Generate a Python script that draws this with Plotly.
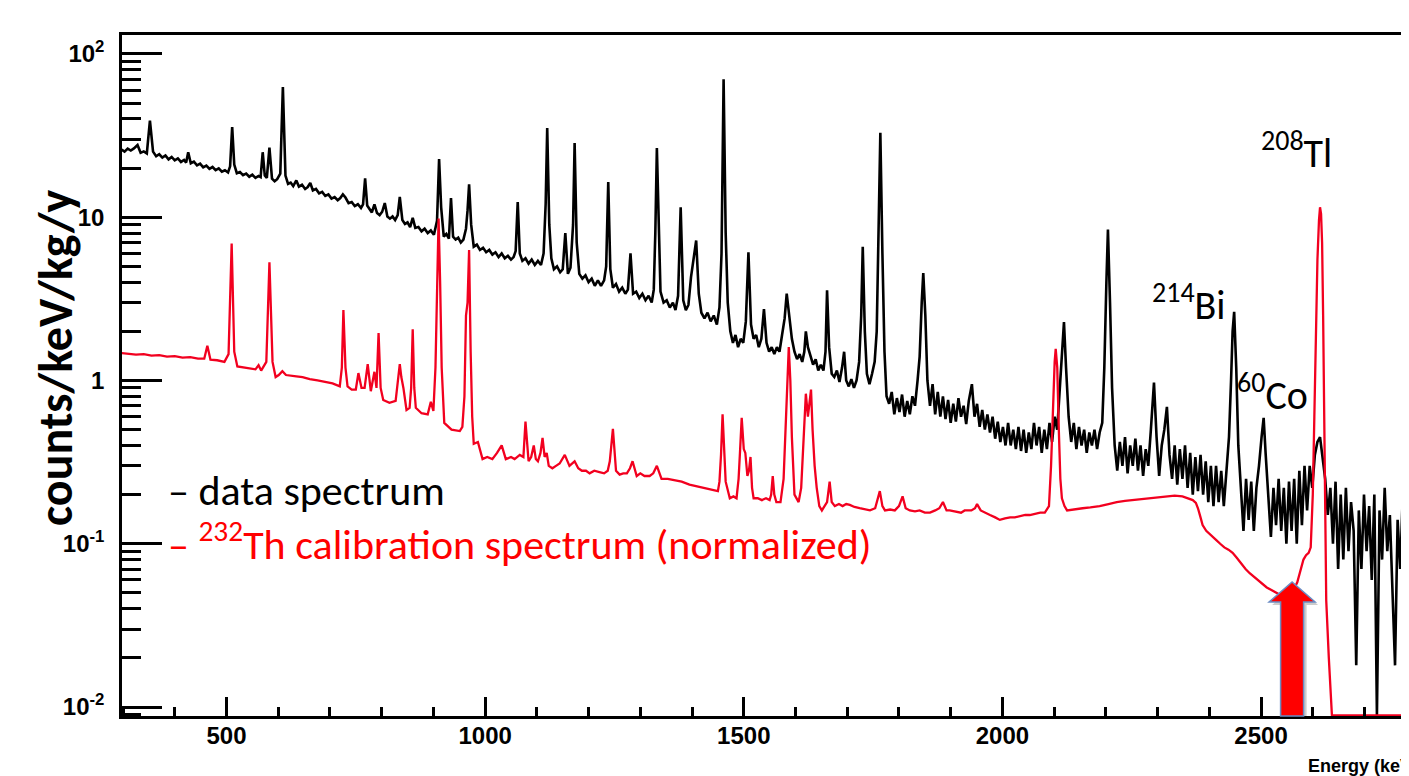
import plotly.graph_objects as go

# ---------------- data spectrum (black), energy in keV, counts/keV/kg/y ----------------
data_energy = [
    297, 303, 309, 315, 321, 328, 334, 340, 346, 352,
    358, 364, 370, 376, 382, 388, 394, 400, 406, 412,
    418, 422, 426, 431, 437, 443, 449, 455, 461, 467,
    473, 479, 485, 491, 497, 503, 507, 511, 515, 520,
    526, 532, 538, 544, 550, 556, 562, 566, 570, 574,
    578, 583, 588, 593, 598, 604, 609, 614, 619, 624,
    629, 635, 640, 646, 652, 657, 662, 667, 673, 679,
    685, 691, 697, 703, 709, 715, 720, 725, 730, 736,
    742, 748, 754, 760, 764, 768, 772, 777, 781, 786,
    791, 796, 801, 806, 811, 816, 821, 826, 831, 835,
    840, 845, 850, 855, 860, 865, 871, 877, 883, 889,
    895, 901, 907, 911, 915, 920, 925, 930, 934, 938,
    943, 948, 953, 958, 963, 966, 969, 973, 978, 984,
    990, 996, 1002, 1008, 1014, 1020, 1026, 1032, 1038, 1044,
    1050, 1055, 1059, 1063, 1067, 1072, 1078, 1084, 1090, 1096,
    1102, 1108, 1113, 1117, 1120, 1124, 1128, 1133, 1139, 1145,
    1150, 1155, 1160, 1165, 1170, 1173, 1177, 1182, 1188, 1194,
    1200, 1206, 1212, 1218, 1224, 1230, 1234, 1238, 1242, 1247,
    1253, 1259, 1265, 1271, 1276, 1281, 1286, 1292, 1298, 1304,
    1310, 1316, 1322, 1326, 1329, 1332, 1335, 1339, 1345, 1351,
    1357, 1363, 1368, 1373, 1378, 1383, 1388, 1393, 1398, 1402,
    1408, 1413, 1418, 1424, 1430, 1436, 1442, 1448, 1453, 1457,
    1461, 1465, 1469, 1474, 1479, 1484, 1489, 1494, 1499, 1504,
    1509, 1514, 1519, 1524, 1529, 1534, 1539, 1544, 1549, 1554,
    1559, 1564, 1569, 1574, 1579, 1583, 1588, 1593, 1598, 1603,
    1608, 1613, 1617, 1620, 1624, 1629, 1634, 1639, 1644, 1649,
    1654, 1658, 1661, 1665, 1670, 1675, 1680, 1685, 1690, 1694,
    1698, 1703, 1708, 1713, 1718, 1723, 1727, 1730, 1734, 1738,
    1743, 1748, 1753, 1757, 1760, 1764, 1768, 1772, 1776, 1781,
    1786, 1791, 1796, 1801, 1806, 1811, 1816, 1821, 1826, 1831,
    1836, 1840, 1844, 1847, 1851, 1855, 1860, 1865, 1870, 1875,
    1880, 1885, 1890, 1895, 1900, 1905, 1910, 1915, 1920, 1925,
    1930, 1935, 1941, 1946, 1951, 1956, 1961, 1966, 1971, 1976,
    1981, 1986, 1991, 1996, 2001, 2006, 2011, 2016, 2021, 2026,
    2031, 2036, 2041, 2046, 2051, 2056, 2061, 2066, 2071, 2076,
    2081, 2086, 2091, 2096, 2101, 2106, 2111, 2115, 2119, 2123,
    2128, 2133, 2138, 2143, 2148, 2153, 2158, 2163, 2168, 2173,
    2178, 2183, 2188, 2193, 2197, 2201, 2204, 2208, 2212, 2217,
    2222, 2227, 2232, 2237, 2242, 2247, 2252, 2257, 2262, 2267,
    2272, 2277, 2282, 2287, 2293, 2298, 2303, 2308, 2313, 2318,
    2323, 2328, 2333, 2338, 2343, 2348, 2353, 2358, 2363, 2368,
    2373, 2378, 2383, 2388, 2393, 2398, 2403, 2408, 2413, 2418,
    2423, 2428, 2433, 2438, 2442, 2445, 2448, 2452, 2456, 2461,
    2466, 2471, 2476, 2481, 2486, 2491, 2496, 2501, 2505, 2509,
    2514, 2519, 2524, 2529, 2534, 2539, 2544, 2549, 2554, 2559,
    2564, 2569, 2574, 2579, 2584, 2589, 2594, 2599, 2604, 2609,
    2614, 2619, 2624, 2629, 2634, 2639, 2644, 2649, 2654, 2659,
    2664, 2669, 2674, 2679, 2684, 2689, 2694, 2699, 2704, 2709,
    2714, 2719, 2724, 2729, 2734, 2739, 2744, 2749, 2754, 2759,
    2764, 2769, 2774, 2779, 2784, 2789,
]
data_counts = [
    26.0, 25.2, 26.3, 25.6, 26.4, 27.7, 24.8, 25.3, 24.6, 39.0,
    25.2, 23.6, 24.3, 23.2, 23.9, 22.6, 23.4, 22.3, 22.9, 21.8,
    22.4, 21.6, 25.0, 21.4, 21.9, 20.8, 21.3, 20.2, 20.7, 19.8,
    20.3, 19.4, 19.9, 19.0, 19.4, 18.8, 20.5, 35.7, 21.0, 18.6,
    18.9, 18.1, 18.5, 17.7, 18.2, 17.4, 17.9, 17.6, 25.0, 18.0,
    17.4, 26.7, 17.2, 16.6, 17.1, 18.5, 62.7, 18.0, 16.0, 16.3,
    15.5, 16.8, 15.4, 15.8, 14.9, 15.3, 16.2, 14.6, 14.9, 14.0,
    14.3, 13.5, 13.8, 13.0, 13.3, 12.7, 13.1, 13.8, 13.2, 12.2,
    12.4, 11.7, 12.0, 11.4, 12.0, 17.3, 11.8, 11.1, 10.7, 12.0,
    10.6, 10.3, 10.8, 12.2, 10.1, 9.8, 10.1, 9.6, 10.3, 13.3,
    9.6, 9.1, 9.3, 8.7, 9.9, 8.6, 8.7, 8.2, 8.5, 8.0,
    8.3, 7.8, 9.5, 22.7, 11.5, 7.6, 7.9, 7.4, 13.1, 7.6,
    7.3, 7.5, 7.0, 7.3, 8.5, 11.0, 15.9, 9.0, 6.6, 6.8,
    6.3, 6.5, 6.1, 6.3, 5.9, 6.1, 5.7, 6.0, 5.6, 5.8,
    5.5, 5.7, 6.2, 12.4, 6.0, 5.4, 5.6, 5.2, 5.5, 5.1,
    5.4, 5.1, 6.0, 12.0, 35.2, 9.0, 5.6, 4.8, 5.0, 4.6,
    4.8, 8.0, 4.5, 4.9, 9.0, 28.5, 7.0, 4.5, 4.2, 4.4,
    4.0, 4.2, 3.8, 4.1, 3.8, 4.1, 5.0, 16.4, 4.8, 3.7,
    3.9, 3.5, 3.7, 3.4, 3.6, 6.0, 3.4, 3.5, 3.2, 3.4,
    3.1, 3.3, 3.0, 3.6, 8.0, 26.5, 9.0, 3.5, 3.0, 3.1,
    2.8, 3.0, 2.7, 3.3, 11.5, 3.1, 2.7, 2.9, 4.3, 5.4,
    7.2, 3.4, 2.6, 2.4, 2.6, 2.3, 2.5, 2.2, 2.8, 6.0,
    70.0, 8.0, 3.0, 2.0, 1.7, 1.9, 1.6, 1.8, 1.7, 2.3,
    6.1, 2.2, 1.8, 1.9, 1.6, 1.8, 2.74, 1.7, 1.5, 1.6,
    1.45, 1.6, 1.5, 1.9, 2.4, 3.4, 2.5, 1.8, 1.5, 1.35,
    1.45, 1.3, 1.5, 2.0, 1.6, 1.4, 1.25, 1.35, 1.15, 1.25,
    1.15, 1.5, 3.57, 1.6, 1.1, 1.05, 1.15, 0.98, 1.2, 1.5,
    1.0, 0.92, 1.02, 0.9, 1.0, 1.3, 2.5, 6.6, 2.0, 1.1,
    0.95, 1.1, 1.3, 2.0, 8.0, 32.9, 6.0, 1.5, 0.8, 0.72,
    0.85, 0.62, 0.78, 0.64, 0.82, 0.6, 0.75, 0.62, 0.8, 0.7,
    1.0, 1.4, 3.0, 4.55, 2.5, 1.0, 0.7, 0.95, 0.62, 0.85,
    0.6, 0.8, 0.58, 0.76, 0.55, 0.72, 0.56, 0.78, 0.6, 0.7,
    0.54, 0.75, 0.95, 0.6, 0.72, 0.52, 0.66, 0.5, 0.62, 0.48,
    0.6, 0.44, 0.56, 0.42, 0.52, 0.4, 0.55, 0.4, 0.5, 0.38,
    0.52, 0.37, 0.5, 0.36, 0.48, 0.38, 0.55, 0.4, 0.52, 0.36,
    0.5, 0.38, 0.55, 0.42, 0.6, 0.5, 0.9, 1.5, 2.28, 1.2,
    0.6, 0.42, 0.55, 0.38, 0.52, 0.4, 0.5, 0.36, 0.48, 0.4,
    0.5, 0.38, 0.48, 0.55, 1.2, 4.0, 8.4, 3.0, 0.9, 0.4,
    0.28, 0.42, 0.3, 0.45, 0.27, 0.4, 0.3, 0.44, 0.28, 0.4,
    0.26, 0.38, 0.3, 0.5, 0.97, 0.45, 0.26, 0.4, 0.5, 0.69,
    0.35, 0.25, 0.4, 0.23, 0.38, 0.25, 0.4, 0.22, 0.36, 0.2,
    0.34, 0.21, 0.35, 0.2, 0.32, 0.18, 0.3, 0.17, 0.3, 0.18,
    0.28, 0.17, 0.3, 0.45, 1.0, 2.0, 2.63, 1.2, 0.4, 0.2,
    0.12, 0.25, 0.14, 0.24, 0.12, 0.22, 0.3, 0.45, 0.59, 0.35,
    0.2, 0.11, 0.22, 0.13, 0.25, 0.12, 0.22, 0.1, 0.24, 0.12,
    0.25, 0.1, 0.28, 0.13, 0.3, 0.16, 0.3, 0.22, 0.35, 0.42,
    0.45, 0.32, 0.25, 0.15, 0.22, 0.1, 0.24, 0.07, 0.2, 0.08,
    0.22, 0.09, 0.18, 0.12, 0.018, 0.16, 0.07, 0.2, 0.09, 0.17,
    0.06, 0.2, 0.0089, 0.16, 0.08, 0.22, 0.09, 0.15, 0.05, 0.018,
    0.14, 0.07, 0.2, 0.09, 0.15, 0.1,
]

# ---------------- 232Th calibration spectrum (red, normalized) ----------------
th_energy = [
    297, 310, 325, 340, 355, 370, 385, 400, 415, 430,
    445, 457, 463, 469, 482, 496, 504, 510, 515, 521,
    532, 544, 556, 562, 567, 577, 583, 589, 595, 601,
    608, 615, 622, 635, 647, 661, 676, 690, 705, 719,
    723, 726, 730, 734, 742, 750, 755, 761, 767, 773,
    779, 786, 790, 794, 798, 803, 815, 827, 831, 835,
    838, 842, 848, 854, 857, 860, 863, 866, 877, 889,
    895, 900, 904, 907, 910, 913, 916, 921, 935, 951,
    956, 960, 963, 966, 969, 972, 975, 978, 986, 995,
    1004, 1014, 1023, 1032, 1040, 1050, 1057, 1067, 1074, 1078,
    1084, 1089, 1094, 1098, 1102, 1107, 1111, 1115, 1119, 1123,
    1130, 1137, 1144, 1154, 1163, 1173, 1180, 1187, 1195, 1202,
    1211, 1221, 1230, 1237, 1241, 1247, 1253, 1260, 1267, 1274,
    1280, 1285, 1293, 1300, 1308, 1318, 1325, 1332, 1341, 1353,
    1366, 1380, 1395, 1410, 1424, 1437, 1450, 1453, 1456, 1459,
    1462, 1465, 1473, 1480, 1486, 1490, 1493, 1496, 1500, 1503,
    1507, 1510, 1513, 1516, 1519, 1527, 1535, 1543, 1550, 1553,
    1556, 1559, 1563, 1571, 1577, 1581, 1584, 1587, 1590, 1593,
    1598, 1606, 1611, 1614, 1617, 1620, 1624, 1627, 1630, 1633,
    1637, 1641, 1646, 1651, 1656, 1661, 1666, 1670, 1676, 1684,
    1691, 1698, 1705, 1714, 1724, 1734, 1744, 1754, 1763, 1768,
    1773, 1783, 1792, 1800, 1807, 1813, 1821, 1831, 1840, 1850,
    1860, 1870, 1878, 1885, 1892, 1898, 1910, 1920, 1927, 1940,
    1947, 1951, 1958, 1966, 1976, 1986, 1995, 2005, 2015, 2024,
    2034, 2044, 2053, 2063, 2073, 2082, 2090, 2094, 2098, 2101,
    2103, 2106, 2109, 2112, 2115, 2120, 2125, 2140, 2155, 2170,
    2188, 2205, 2221, 2237, 2252, 2268, 2285, 2300, 2318, 2333,
    2348, 2360, 2368, 2374, 2378, 2383, 2387, 2394, 2401, 2408,
    2414, 2421, 2429, 2437, 2445, 2453, 2462, 2470, 2478, 2486,
    2494, 2502, 2511, 2520, 2530, 2540, 2550, 2560, 2570, 2577,
    2582, 2587, 2592, 2596, 2600, 2603, 2606, 2609, 2612, 2614,
    2616, 2618, 2620, 2622, 2624, 2626, 2631, 2637, 2700, 2789,
]
th_counts = [
    1.47, 1.46, 1.44, 1.45, 1.42, 1.43, 1.40, 1.41, 1.38, 1.39,
    1.36, 1.36, 1.63, 1.34, 1.33, 1.30, 1.45, 6.9, 1.5, 1.22,
    1.20, 1.18, 1.17, 1.24, 1.15, 1.3, 5.3, 1.3, 1.05, 1.08,
    1.14, 1.08, 1.07, 1.06, 1.05, 1.02, 1.0, 0.98, 0.96, 0.92,
    1.2, 2.7, 1.2, 0.92, 0.88, 0.88, 1.11, 0.9, 0.9, 1.26,
    0.86, 1.13, 0.9, 1.95, 0.9, 0.76, 0.73, 0.75, 1.0, 1.26,
    1.05, 0.9, 0.66, 0.68, 0.9, 2.06, 0.9, 0.68, 0.63, 0.62,
    0.74, 0.65, 1.2, 4.0, 9.8, 4.0, 1.2, 0.55, 0.50, 0.49,
    0.52, 0.8, 2.5, 3.0, 6.3, 1.5, 0.6, 0.41, 0.42, 0.33,
    0.34, 0.33, 0.36, 0.40, 0.33, 0.34, 0.33, 0.35, 0.34, 0.56,
    0.32, 0.34, 0.40, 0.33, 0.32, 0.36, 0.445, 0.34, 0.36, 0.30,
    0.29, 0.30, 0.31, 0.35, 0.30, 0.32, 0.29, 0.28, 0.28, 0.27,
    0.28, 0.275, 0.27, 0.28, 0.32, 0.505, 0.28, 0.265, 0.27, 0.27,
    0.29, 0.32, 0.26, 0.27, 0.26, 0.26, 0.27, 0.30, 0.25, 0.25,
    0.245, 0.24, 0.23, 0.225, 0.22, 0.215, 0.21, 0.24, 0.35, 0.62,
    0.35, 0.24, 0.19, 0.195, 0.19, 0.25, 0.38, 0.59, 0.38, 0.36,
    0.26, 0.28, 0.34, 0.22, 0.19, 0.19, 0.185, 0.19, 0.185, 0.2,
    0.26, 0.2, 0.18, 0.18, 0.25, 0.5, 1.0, 1.6, 1.0, 0.45,
    0.2, 0.18, 0.22, 0.35, 0.6, 0.83, 0.6, 0.7, 0.88, 0.5,
    0.3, 0.22, 0.17, 0.16, 0.17, 0.18, 0.24, 0.18, 0.17, 0.175,
    0.17, 0.175, 0.173, 0.168, 0.165, 0.163, 0.16, 0.165, 0.21, 0.17,
    0.16, 0.162, 0.16, 0.17, 0.195, 0.165, 0.16, 0.158, 0.16, 0.155,
    0.155, 0.16, 0.165, 0.18, 0.16, 0.16, 0.158, 0.155, 0.16, 0.16,
    0.165, 0.175, 0.16, 0.155, 0.15, 0.145, 0.14, 0.143, 0.145, 0.145,
    0.148, 0.15, 0.15, 0.152, 0.155, 0.155, 0.17, 0.3, 0.8, 1.3,
    1.56, 1.2, 0.5, 0.25, 0.19, 0.17, 0.16, 0.163, 0.165, 0.167,
    0.17, 0.175, 0.18, 0.183, 0.185, 0.188, 0.19, 0.193, 0.195, 0.197,
    0.195, 0.19, 0.185, 0.178, 0.165, 0.145, 0.13, 0.12, 0.115, 0.11,
    0.105, 0.1, 0.095, 0.092, 0.088, 0.082, 0.075, 0.07, 0.066, 0.063,
    0.06, 0.057, 0.054, 0.052, 0.05, 0.048, 0.048, 0.05, 0.058, 0.07,
    0.08, 0.085, 0.088, 0.095, 0.2, 0.6, 2.0, 5.5, 9.6, 11.5,
    10.5, 7.0, 2.5, 0.6, 0.1, 0.045, 0.02, 0.0089, 0.0089, 0.0089,
]

assert len(data_energy) == len(data_counts), (len(data_energy), len(data_counts))
assert len(th_energy) == len(th_counts), (len(th_energy), len(th_counts))

# ---------------- axes / labels ----------------
x_tick_values = [500, 1000, 1500, 2000, 2500]
x_tick_labels = ["500", "1000", "1500", "2000", "2500"]
y_tick_values = [0.01, 0.1, 1, 10, 100]
y_tick_labels = ["10<sup>-2</sup>", "10<sup>-1</sup>", "1", "10", "10<sup>2</sup>"]
y_minor_values = [0.009] + [m * d for d in (0.01, 0.1, 1, 10) for m in range(2, 10)]

x_title = "Energy (keV)"
y_title = "counts/keV/kg/y"
legend_data = "– data spectrum"
legend_th = "– <sup>232</sup>Th calibration spectrum (normalized)"
peak_labels = ["<sup>208</sup>Tl", "<sup>214</sup>Bi", "<sup>60</sup>Co"]

X_RANGE = [298, 2786]
Y_RANGE = [-2.055, 2.116]

# the page body has an 8 px margin: the figure is sized/offset so that the
# plotting frame lands at window pixels x 122..1409, y 35..716
OFF = 8
W, H = 1401, 768
ML, MR, MT, MB = 114, 0, 27, 60
PW, PH = W - ML - MR, H - MT - MB
FRAME_LEFT = OFF + ML
FRAME_BOTTOM = OFF + H - MB


def px(xp):
    return (xp - FRAME_LEFT) / PW


def py(yp):
    return (FRAME_BOTTOM - yp) / PH


CAL = "Carlito, Lato, 'Open Sans', sans-serif"
ROOTF = "'Liberation Sans Narrow', 'Arial Narrow', 'Liberation Sans', Arial, sans-serif"
RED = "#f2001f"

fig = go.Figure()
fig.add_trace(go.Scatter(x=data_energy, y=data_counts, mode="lines",
                         line=dict(color="black", width=2.6), showlegend=False,
                         hoverinfo="skip"))
fig.add_trace(go.Scatter(x=th_energy, y=th_counts, mode="lines",
                         line=dict(color=RED, width=2.3), showlegend=False,
                         hoverinfo="skip"))

fig.update_layout(
    width=W, height=H,
    margin=dict(l=ML, r=MR, t=MT, b=MB, pad=0),
    paper_bgcolor="white", plot_bgcolor="white",
    showlegend=False,
)

fig.update_xaxes(
    range=X_RANGE, showgrid=False, zeroline=False, automargin=False,
    showline=True, linecolor="black", linewidth=2.5, mirror=True,
    ticks="inside", ticklen=19, tickwidth=2.5, tickcolor="black",
    tickmode="array", tickvals=x_tick_values, ticktext=x_tick_labels,
    tickfont=dict(family=ROOTF, size=24, color="black", weight="bold"),
    ticklabelstandoff=-4,
    minor=dict(ticks="inside", ticklen=9, tickwidth=2.5, tickcolor="black",
               tickmode="linear", tick0=0, dtick=100, showgrid=False),
)
fig.update_yaxes(
    type="log", range=Y_RANGE, showgrid=False, zeroline=False, automargin=False,
    showline=True, linecolor="black", linewidth=2.5, mirror=False,
    ticks="inside", ticklen=40, tickwidth=2.5, tickcolor="black",
    tickmode="array", tickvals=y_tick_values, ticktext=y_tick_labels,
    tickfont=dict(family=ROOTF, size=24, color="black", weight="bold"),
    ticklabelstandoff=10,
    minor=dict(ticks="inside", ticklen=19, tickwidth=2.5, tickcolor="black",
               tickmode="array", tickvals=y_minor_values, showgrid=False),
)

ann = []
ann.append(dict(text=y_title, xref="paper", yref="paper", x=px(55), y=py(358),
                textangle=-90, showarrow=False, xanchor="center", yanchor="middle",
                font=dict(family=CAL, size=48, color="black", weight="bold")))
ann.append(dict(text=x_title, xref="paper", yref="paper", x=px(1306), y=py(754),
                showarrow=False, xanchor="left", yanchor="top",
                font=dict(family="'Liberation Sans', Arial, sans-serif", size=18,
                          color="black", weight="bold")))
ann.append(dict(text=legend_data, xref="paper", yref="paper", x=px(166), y=py(490),
                showarrow=False, xanchor="left", yanchor="middle",
                font=dict(family=CAL, size=42, color="black")))
ann.append(dict(text=legend_th, xref="paper", yref="paper", x=px(166), y=py(541),
                showarrow=False, xanchor="left", yanchor="middle",
                font=dict(family=CAL, size=42, color="#ff0000")))
label_pos = [(1259, 150), (1150, 302), (1235, 392)]
for t, (lx, ly) in zip(peak_labels, label_pos):
    ann.append(dict(text=t, xref="paper", yref="paper", x=px(lx), y=py(ly),
                    showarrow=False, xanchor="left", yanchor="middle",
                    font=dict(family=CAL, size=40, color="black")))
fig.update_layout(annotations=ann)

# block arrow pointing up at the Compton-edge region
ARROW_E = 2560
arrow_path = "M -11.5,0 L -11.5,114 L -23,114 L 0,134 L 23,114 L 11.5,114 L 11.5,0 Z"
shadow_path = "M -8.5,-3 L -8.5,111 L -20,111 L 3,131 L 26,111 L 14.5,111 L 14.5,-3 Z"
fig.add_shape(type="path", xref="x", yref="paper", xsizemode="pixel", ysizemode="pixel",
              xanchor=ARROW_E, yanchor=0, path=shadow_path,
              fillcolor="rgba(0,0,0,0.2)", line=dict(width=0), layer="above")
fig.add_shape(type="path", xref="x", yref="paper", xsizemode="pixel", ysizemode="pixel",
              xanchor=ARROW_E, yanchor=0, path=arrow_path,
              fillcolor="#ff0000", line=dict(color="#6b8cc4", width=1.5), layer="above")

fig.write_html("out.html")
